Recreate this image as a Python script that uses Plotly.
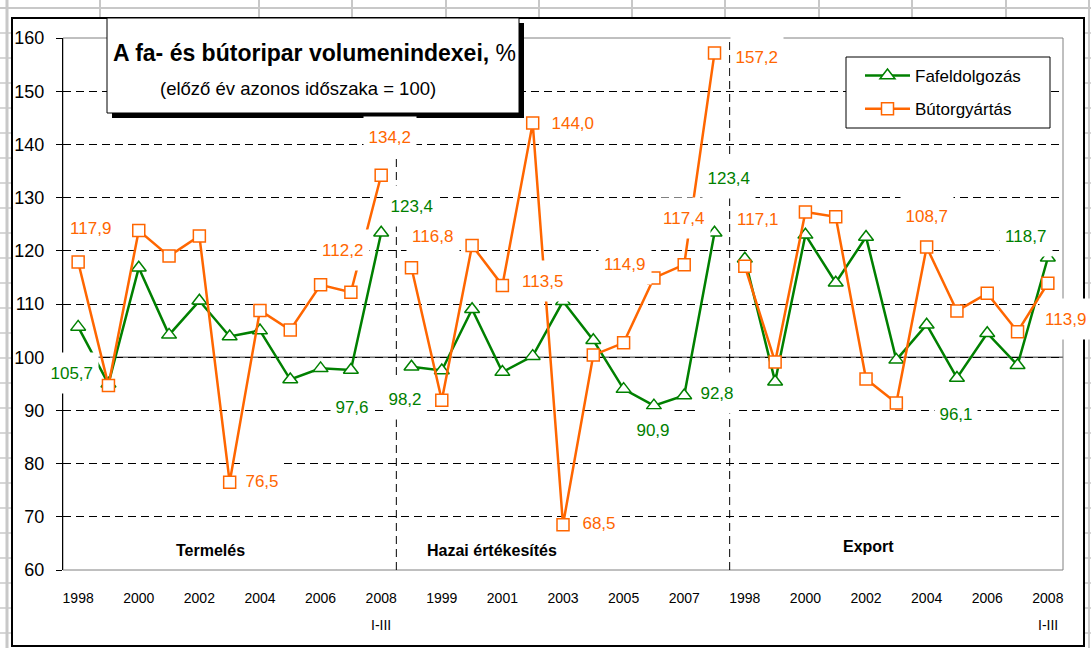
import plotly.graph_objects as go

# ---------------- data ----------------
years = list(range(1998, 2009))
panels = ["Termelés", "Hazai értékesítés", "Export"]

faf_termeles = [105.7, 95.0, 116.8, 104.2, 110.6, 103.9, 105.0, 95.8, 97.9, 97.6, 123.4]
but_termeles = [117.9, 94.7, 123.8, 119.0, 122.8, 76.5, 108.8, 105.1, 113.6, 112.2, 134.2]
faf_hazai = [98.2, 97.5, 109.0, 97.2, 100.2, 110.5, 103.2, 94.0, 90.9, 92.8, 123.4]
but_hazai = [116.8, 91.9, 121.0, 113.5, 144.0, 68.5, 100.4, 102.7, 114.9, 117.4, 157.2]
faf_export = [118.5, 95.4, 123.0, 114.0, 122.6, 99.5, 106.1, 96.1, 104.5, 98.5, 118.7]
but_export = [117.1, 99.1, 127.3, 126.4, 95.9, 91.4, 120.7, 108.7, 112.0, 104.8, 113.9]

faf_series = [faf_termeles, faf_hazai, faf_export]
but_series = [but_termeles, but_hazai, but_export]

# tick labels: every second category across the three panels
tick_text = []
for p in range(3):
    for k, yr in enumerate(years):
        tick_text.append(str(yr))
last_period_note = "I-III"

# data labels: (series, panel, year index, text, xshift, yshift)
labels = [
    ("b", 0, 0, "117,9", 13, 34),
    ("f", 0, 0, "105,7", -6, -46),
    ("b", 0, 5, "76,5", 32, 1),
    ("f", 0, 9, "97,6", 1, -37),
    ("b", 0, 9, "112,2", -8, 42),
    ("b", 0, 10, "134,2", 9, 38),
    ("f", 0, 10, "123,4", 31, 27),
    ("b", 1, 0, "116,8", 22, 32),
    ("f", 1, 0, "98,2", -6, -32),
    ("b", 1, 4, "144,0", 40, 0),
    ("b", 1, 3, "113,5", 41, 4),
    ("b", 1, 5, "68,5", 36, 2),
    ("b", 1, 8, "114,9", -29, 14),
    ("b", 1, 9, "117,4", 0, 47),
    ("f", 1, 8, "90,9", -1, -24),
    ("f", 1, 9, "92,8", 33, 3),
    ("b", 1, 10, "157,2", 42, -4),
    ("f", 1, 10, "123,4", 14, 55),
    ("b", 2, 0, "117,1", 13, 47),
    ("b", 2, 6, "108,7", 0, 31),
    ("f", 2, 7, "96,1", -1, -36),
    ("f", 2, 10, "118,7", -22, 22),
    ("b", 2, 10, "113,9", 18, -36),
]

# ---------------- style ----------------
GREEN = "#008000"
ORANGE = "#FF6600"
REG = "Liberation Sans, Arial, sans-serif"

W, H = 1091, 648
L, R, T, B = 63, 1063, 38, 570


def px(xp):
    return (xp - L) / (R - L)


def py(yp):
    return (B - yp) / (B - T)


n = len(years)
fig = go.Figure()

for name, series, color, symbol, size, grp in [
    ("Fafeldolgozás", faf_series, GREEN, "triangle-up", 13, "f"),
    ("Bútorgyártás", but_series, ORANGE, "square", 12, "b"),
]:
    for p, vals in enumerate(series):
        fig.add_trace(go.Scatter(
            x=[p * n + k for k in range(n)],
            y=vals,
            mode="lines+markers",
            name=name,
            legendgroup=grp,
            showlegend=(p == 0),
            line=dict(color=color, width=2.5),
            marker=dict(symbol=symbol, size=size, color="white",
                        line=dict(color=color, width=1.5)),
            hoverinfo="skip",
        ))

shapes = []
# spreadsheet grid background (outside the chart)
GRID = "#c8c8c8"
shapes.append(dict(type="line", xref="paper", yref="paper", x0=px(0), x1=px(W),
                   y0=py(8), y1=py(8), line=dict(color=GRID, width=2), layer="below"))
for cx in [100, 259, 352, 446, 539, 632, 725, 819, 912, 1006]:
    shapes.append(dict(type="line", xref="paper", yref="paper", x0=px(cx), x1=px(cx),
                       y0=py(0), y1=py(18), line=dict(color=GRID, width=2), layer="below"))
shapes.append(dict(type="line", xref="paper", yref="paper", x0=px(7), x1=px(7),
                   y0=py(0), y1=py(H), line=dict(color=GRID, width=3), layer="below"))
shapes.append(dict(type="line", xref="paper", yref="paper", x0=px(1089), x1=px(1089),
                   y0=py(0), y1=py(H), line=dict(color=GRID, width=2), layer="below"))
for ry in range(8, H, 25):
    shapes.append(dict(type="line", xref="paper", yref="paper", x0=px(0), x1=px(12),
                       y0=py(ry), y1=py(ry), line=dict(color=GRID, width=1.5), layer="below"))
    shapes.append(dict(type="line", xref="paper", yref="paper", x0=px(1084), x1=px(W),
                       y0=py(ry), y1=py(ry), line=dict(color=GRID, width=1.5), layer="below"))
# chart area (white with black border)
shapes.append(dict(type="rect", xref="paper", yref="paper", x0=px(12), x1=px(1084),
                   y0=py(646), y1=py(18), fillcolor="white",
                   line=dict(color="black", width=2), layer="below"))
# plot frame
shapes.append(dict(type="rect", xref="paper", yref="paper", x0=0, x1=1, y0=0, y1=1,
                   line=dict(color="#808080", width=1), layer="between"))
# 100 reference line
shapes.append(dict(type="line", xref="paper", yref="y", x0=0, x1=1, y0=100, y1=100,
                   line=dict(color="#707070", width=1.5), layer="between"))
# panel dividers
for p in range(1, 3):
    shapes.append(dict(type="line", xref="x", yref="paper", x0=p * n - 0.5, x1=p * n - 0.5,
                       y0=0, y1=1, line=dict(color="black", width=1, dash="8px,5px"),
                       layer="between"))
# title box with shadow
shapes.append(dict(type="rect", xref="paper", yref="paper", x0=px(112), x1=px(524),
                   y0=py(118), y1=py(23), fillcolor="black", line=dict(width=0),
                   layer="above"))
shapes.append(dict(type="rect", xref="paper", yref="paper", x0=px(107), x1=px(519),
                   y0=py(113), y1=py(18), fillcolor="white",
                   line=dict(color="black", width=1), layer="above"))
# legend box
shapes.append(dict(type="rect", xref="paper", yref="paper", x0=px(846), x1=px(1050),
                   y0=py(128), y1=py(57), fillcolor="white",
                   line=dict(color="black", width=1), layer="above"))

annotations = []
# data labels with white boxes
for grp, p, k, text, dx, dy in labels:
    vals = faf_series[p] if grp == "f" else but_series[p]
    color = GREEN if grp == "f" else ORANGE
    annotations.append(dict(
        x=p * n + k, y=vals[k], xref="x", yref="y", text=text, showarrow=False,
        xshift=dx, yshift=dy, font=dict(family=REG, size=17, color=color),
        bgcolor="white", width=9.5 * len(text) + 2, height=38,
        xanchor="center", yanchor="middle", valign="middle",
    ))
# panel titles
for text, xc, yv in [(panels[0], 4.36, 63.7), (panels[1], 13.66, 63.7), (panels[2], 26.07, 64.5)]:
    annotations.append(dict(x=xc, y=yv, xref="x", yref="y", text="<b>%s</b>" % text,
                            showarrow=False, xanchor="center",
                            font=dict(family=REG, size=16, color="black")))
# second line under the last tick of panel 1 and 3
for p in (0, 2):
    annotations.append(dict(x=p * n + n - 1, y=0, xref="x", yref="paper", yshift=-55,
                            text=last_period_note, showarrow=False, xanchor="center",
                            yanchor="middle",
                            font=dict(family=REG, size=14, color="black")))
# title
annotations.append(dict(x=px(314), y=py(53), xref="paper", yref="paper",
                        text="<b>A fa- és bútoripar volumenindexei,</b> %", showarrow=False,
                        xanchor="center", yanchor="middle",
                        font=dict(family=REG, size=23, color="black")))
annotations.append(dict(x=px(298), y=py(88), xref="paper", yref="paper",
                        text="(előző év azonos időszaka = 100)", showarrow=False,
                        xanchor="center", yanchor="middle",
                        font=dict(family=REG, size=18.5, color="black")))

tickvals = list(range(0, 3 * n, 2))
fig.update_layout(
    width=W, height=H,
    margin=dict(l=L, r=W - R, t=T, b=H - B, autoexpand=False),
    paper_bgcolor="white", plot_bgcolor="white",
    showlegend=True,
    legend=dict(x=px(860), y=py(58), xanchor="left", yanchor="top",
                bgcolor="rgba(0,0,0,0)", borderwidth=0, tracegroupgap=8,
                font=dict(family=REG, size=17, color="black"), itemwidth=45),
    xaxis=dict(range=[-0.5, 3 * n - 0.5], tickmode="array", tickvals=tickvals,
               ticktext=[tick_text[i] for i in tickvals], showgrid=False, zeroline=False,
               showline=False, ticks="", ticklabelstandoff=18,
               tickfont=dict(family=REG, size=14, color="black")),
    yaxis=dict(range=[60, 160], dtick=10, tick0=60, showgrid=True, gridcolor="black",
               griddash="8px,5px", gridwidth=1, zeroline=False, showline=True,
               linecolor="black", linewidth=1, ticks="outside", ticklen=6,
               tickcolor="black", ticklabelstandoff=8,
               tickfont=dict(family=REG, size=18, color="black")),
    shapes=shapes,
    annotations=annotations,
)

fig.write_html("out.html", config={"displayModeBar": False},
               post_script="document.body.style.margin='0';")
